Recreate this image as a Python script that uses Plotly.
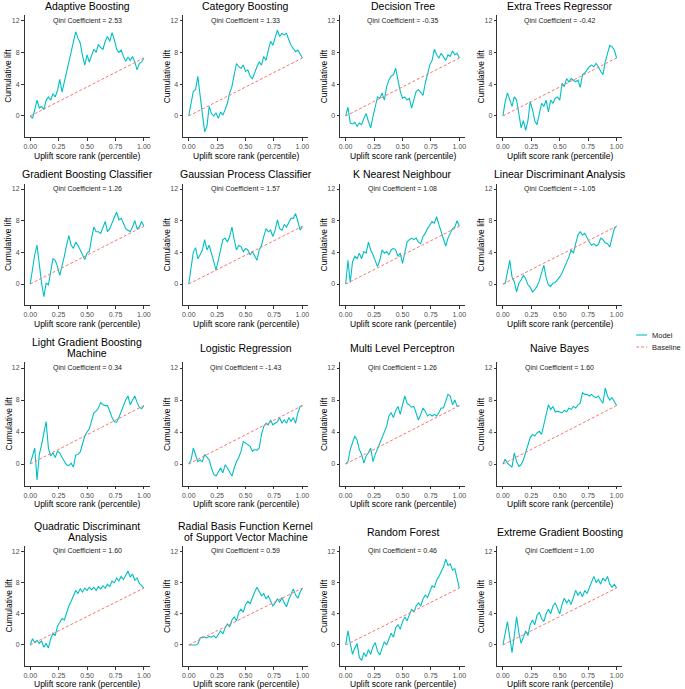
import plotly.graph_objects as go

# ---------------- data ----------------
percentile = [0.00, 0.02, 0.04, 0.06, 0.08, 0.10, 0.12, 0.14, 0.16, 0.18,
              0.20, 0.22, 0.24, 0.26, 0.28, 0.30, 0.32, 0.34, 0.36, 0.38,
              0.40, 0.42, 0.44, 0.46, 0.48, 0.50, 0.52, 0.54, 0.56, 0.58,
              0.60, 0.62, 0.64, 0.66, 0.68, 0.70, 0.72, 0.74, 0.76, 0.78,
              0.80, 0.82, 0.84, 0.86, 0.88, 0.90, 0.92, 0.94, 0.96, 0.98,
              1.00]

models = ["Adaptive Boosting", "Category Boosting", "Decision Tree", "Extra Trees Regressor",
          "Gradient Boosting Classifier", "Gaussian Process Classifier", "K Nearest Neighbour",
          "Linear Discriminant Analysis",
          "Light Gradient Boosting\nMachine", "Logistic Regression", "Multi Level Perceptron",
          "Naive Bayes",
          "Quadratic Discriminant\nAnalysis", "Radial Basis Function Kernel\nof Support Vector Machine",
          "Random Forest", "Extreme Gradient Boosting"]

qini = ["2.53", "1.33", "-0.35", "-0.42", "1.26", "1.57", "1.08", "-1.05",
        "0.34", "-1.43", "1.26", "1.60", "1.60", "0.59", "0.46", "1.00"]

x_ticks = [0, 0.25, 0.5, 0.75, 1]
x_tick_labels = ["0.00", "0.25", "0.50", "0.75", "1.00"]
y_ticks = [0, 4, 8, 12]

lift_adaptive = [0, -0.3, 0.8, 2.0, 1.0, 1.2, 0.8, 2.0, 2.4, 2.0,
                 2.8, 2.4, 3.2, 4.6, 3.0, 4.2, 5.8, 7.0, 8.2, 9.0,
                 10.6, 9.8, 9.2, 7.6, 6.4, 7.7, 6.8, 7.6, 8.4, 8.0,
                 9.0, 8.6, 8.4, 9.4, 10.0, 9.4, 10.5, 9.6, 8.4, 8.0,
                 8.3, 7.5, 6.9, 7.4, 7.0, 7.5, 6.8, 5.8, 6.6, 6.8,
                 7.3]
lift_catboost = [0, 1.6, 3.1, 3.3, 5.0, 2.6, 0.2, -2.0, -1.3, 1.2,
                 0.3, 0.0, 0.4, -0.3, 0.5, 0.1, 0.8, 1.6, 2.9, 3.7,
                 5.2, 6.6, 6.2, 6.0, 6.4, 5.6, 5.8, 5.0, 4.7, 5.6,
                 6.2, 6.8, 6.4, 7.5, 7.0, 8.3, 9.4, 8.9, 9.8, 10.8,
                 10.0, 10.4, 10.2, 10.4, 9.6, 8.9, 8.5, 8.1, 8.3, 7.7,
                 7.3]
lift_tree = [0, 1.1, -0.9, -1.0, -0.8, -1.3, -0.9, -1.1, -0.3, 0.3,
             -0.7, -1.5, -0.1, 1.2, 2.4, 2.2, 2.9, 2.0, 3.7, 4.5,
             5.0, 5.2, 6.0, 4.5, 3.1, 2.2, 2.4, 2.0, 2.2, 1.0,
             2.2, 3.1, 3.3, 2.9, 2.6, 4.1, 5.4, 6.4, 7.0, 8.4,
             7.7, 7.3, 7.9, 7.5, 7.0, 7.7, 7.5, 8.2, 7.7, 7.9,
             7.3]
lift_extra_trees = [0, 1.8, 2.9, 2.0, 1.2, 2.4, 2.0, 0.3, -1.5, -0.6,
                    -1.8, -0.6, 1.8, 0.8, -0.6, -1.1, 0.1, 1.6, 1.2, 2.0,
                    0.5, 2.0, 1.6, 2.2, 2.4, 2.0, 4.1, 3.7, 4.7, 4.3,
                    4.7, 4.5, 4.3, 4.5, 3.6, 5.2, 5.4, 5.8, 6.2, 6.4,
                    6.2, 6.6, 6.2, 5.6, 5.2, 6.8, 7.7, 8.9, 8.7, 8.3,
                    7.3]
lift_gradient = [0, 2.2, 3.7, 4.9, 2.4, 0.1, -1.6, 0.1, -0.1, 1.8,
                 3.2, 3.0, 2.2, 1.1, 2.2, 3.5, 4.9, 6.1, 4.9, 4.5,
                 5.3, 4.9, 4.3, 3.7, 3.1, 3.9, 4.1, 5.8, 7.2, 6.6,
                 6.6, 6.4, 7.2, 7.9, 6.6, 7.0, 7.7, 8.5, 9.1, 8.1,
                 8.3, 7.7, 7.0, 6.8, 6.6, 7.2, 8.0, 7.0, 7.2, 7.9,
                 7.3]
lift_gaussian = [0, 2.2, 4.0, 4.6, 3.2, 3.7, 4.3, 5.6, 4.3, 4.9,
                 3.9, 2.8, 1.8, 3.0, 4.5, 5.6, 5.8, 5.3, 6.0, 7.2,
                 5.6, 4.3, 4.9, 4.7, 4.1, 4.5, 4.3, 3.7, 4.1, 3.5,
                 3.0, 4.3, 4.9, 6.0, 7.0, 6.6, 6.8, 6.0, 6.8, 8.1,
                 7.0, 6.8, 7.5, 7.2, 7.7, 8.3, 8.3, 8.9, 7.9, 6.8,
                 7.3]
lift_knn = [0, 3.0, 0.2, 2.8, 3.5, 3.2, 3.9, 3.2, 4.1, 3.9,
            5.3, 4.3, 3.7, 3.0, 2.2, 3.0, 4.3, 3.9, 4.1, 3.7,
            4.3, 4.5, 4.3, 3.5, 3.9, 2.6, 3.9, 5.3, 5.6, 5.8,
            5.6, 5.8, 5.3, 5.1, 6.0, 6.4, 7.0, 7.5, 7.9, 7.7,
            8.5, 7.5, 6.6, 5.8, 4.8, 5.8, 6.4, 7.0, 7.2, 8.0,
            7.3]
lift_lda = [0, 0.1, 1.5, 3.0, 0.9, 0.3, -1.0, 0.1, 0.5, 1.1,
            0.7, -0.1, -0.4, -1.0, -0.7, -0.3, 0.4, 1.5, 2.4, 0.8,
            -0.1, -0.3, 0.1, 0.2, 0.5, 0.9, 1.4, 2.0, 2.6, 3.4,
            4.3, 3.9, 5.1, 6.2, 6.6, 6.2, 6.4, 5.8, 5.3, 4.9,
            5.1, 4.8, 5.0, 5.8, 5.6, 5.2, 5.1, 4.7, 5.8, 7.0,
            7.3]
lift_lightgbm = [0, 1.0, 2.0, -2.0, 1.2, 2.4, 3.7, 5.3, 2.0, 1.0,
                 1.4, 0.8, 1.6, 1.4, 0.8, 0.3, -0.1, -0.2, 0.1, -0.4,
                 1.1, 1.2, 1.5, 2.5, 3.5, 4.0, 4.4, 5.4, 6.4, 6.6,
                 7.0, 7.7, 7.4, 7.3, 7.3, 6.6, 5.8, 5.3, 5.2, 5.8,
                 6.6, 7.3, 8.0, 8.5, 7.4, 8.0, 8.5, 7.7, 7.1, 6.9,
                 7.3]
lift_logistic = [0, 0.5, 2.0, 1.0, 0.3, 0.5, 0.3, 1.2, 0.8, 0.5,
                 -0.5, -1.3, -1.5, -0.9, -0.5, -1.1, -0.1, -0.5, -1.1, -1.5,
                 -0.5, 0.3, 0.8, 1.6, 2.8, 2.6, 2.4, 2.2, 1.6, 1.8,
                 1.7, 2.0, 3.7, 4.7, 5.1, 4.9, 5.5, 4.9, 5.1, 5.3,
                 5.8, 5.1, 5.5, 5.1, 5.8, 5.3, 5.8, 5.1, 6.4, 7.2,
                 7.3]
lift_mlp = [0, 0.3, 1.8, 2.8, 3.5, 3.0, 1.8, 1.2, 0.1, 1.0,
            1.4, 2.0, 0.3, 1.2, 2.0, 2.6, 3.3, 3.9, 4.7, 6.0,
            6.4, 5.8, 6.7, 7.2, 6.2, 7.4, 8.5, 7.6, 7.4, 7.1,
            7.2, 6.4, 5.5, 6.2, 7.0, 6.6, 6.0, 6.2, 6.0, 6.2,
            6.0, 6.4, 7.0, 7.0, 7.8, 8.7, 8.5, 7.4, 8.0, 7.2,
            7.3]
lift_naive_bayes = [0, 0.6, 0.1, -0.1, -0.4, 1.4, 0.3, -0.3, -0.1, 0.5,
                    1.4, 2.6, 3.3, 3.7, 3.5, 3.9, 4.1, 3.7, 4.9, 6.2,
                    7.4, 6.8, 7.2, 6.5, 6.6, 6.5, 6.4, 6.7, 6.5, 7.0,
                    6.8, 7.2, 7.0, 7.4, 7.6, 8.9, 8.7, 8.7, 8.5, 8.7,
                    8.4, 8.3, 8.5, 8.0, 7.6, 9.5, 8.5, 8.0, 8.3, 7.8,
                    7.3]
lift_qda = [0, 0.8, 0.3, 0.6, 0.2, 0.5, -0.3, 0.2, -0.4, 0.8,
            1.5, 1.2, 2.4, 3.0, 3.4, 3.2, 4.2, 5.0, 5.6, 6.4,
            7.0, 6.6, 7.2, 6.8, 7.3, 7.0, 7.4, 7.1, 7.4, 7.0,
            7.5, 7.2, 7.6, 7.3, 7.8, 7.5, 8.2, 8.0, 8.6, 8.2,
            8.8, 8.4, 9.0, 9.5, 8.7, 9.1, 8.3, 8.6, 7.9, 7.6,
            7.3]
lift_rbf_svm = [0, 0, 0, 0, 0.1, 0.9, 1.0, 1.0, 0.9, 1.1,
                1.0, 1.2, 0.9, 1.3, 1.8, 1.4, 2.2, 2.7, 2.3, 3.2,
                3.6, 3.1, 4.2, 4.6, 4.2, 5.2, 5.6, 5.3, 6.2, 6.8,
                7.4, 6.8, 6.3, 6.6, 5.9, 6.3, 5.6, 5.0, 5.4, 5.9,
                5.5, 6.1, 5.4, 4.9, 5.8, 6.6, 7.2, 6.4, 6.0, 6.8,
                7.3]
lift_random_forest = [0, 1.8, 0.2, -1.2, -0.4, 0.2, -1.6, -2.0, -1.0, -1.5,
                      -0.6, -1.2, -0.2, 0.3, -0.8, -1.3, -0.4, 0.4, 0.0, 0.9,
                      1.5, 1.0, 2.2, 2.6, 2.0, 3.0, 3.6, 3.1, 4.0, 4.6,
                      4.2, 5.0, 5.4, 5.0, 5.9, 6.4, 6.1, 7.0, 7.6, 7.4,
                      8.3, 8.8, 9.4, 10.0, 11.0, 10.2, 10.4, 9.6, 9.8, 8.6,
                      7.3]
lift_xgboost = [0, 1.5, 3.0, 1.0, -1.0, 1.2, 3.6, 1.6, 0.2, 1.0,
                1.8, 1.2, 2.6, 3.2, 2.6, 3.8, 4.2, 3.4, 3.0, 4.0,
                4.6, 4.0, 5.0, 5.4, 4.6, 4.0, 5.2, 6.0, 5.4, 5.8,
                5.2, 6.2, 7.0, 6.4, 6.8, 6.2, 7.0, 6.6, 7.4, 8.2,
                8.8, 8.0, 8.4, 7.8, 8.6, 8.2, 8.8, 7.8, 7.4, 7.8,
                7.3]

lifts = [lift_adaptive, lift_catboost, lift_tree, lift_extra_trees,
         lift_gradient, lift_gaussian, lift_knn, lift_lda,
         lift_lightgbm, lift_logistic, lift_mlp, lift_naive_bayes,
         lift_qda, lift_rbf_svm, lift_random_forest, lift_xgboost]

# ---------------- layout geometry (pixels) ----------------
W, H = 685, 689
col_left = [23.6, 182.6, 340.0, 497.7]
PW = 125.4
row_top = [15.1, 183.5, 362.4, 546.0]
row_bot = [137.4, 305.4, 485.6, 666.0]
title_y_single = [5.5, 173.5, 348.0, 531.5]
title_y_two = [None, None, (342.3, 353.3), (526.0, 537.0)]

FONT = "Liberation Sans, Arial, sans-serif"
MODEL_COLOR = "#00BFC4"
BASE_COLOR = "#F8766D"
AXIS_COLOR = "#333333"
TICK_TEXT = "#4D4D4D"


def px(x):
    return x / W


def py(y):
    return 1 - y / H


fig = go.Figure()
annotations = []
layout_axes = {}

for i, (name, lift) in enumerate(zip(models, lifts)):
    n = i + 1
    r, c = divmod(i, 4)
    xs = "x" if n == 1 else f"x{n}"
    ys = "y" if n == 1 else f"y{n}"
    xk = "xaxis" if n == 1 else f"xaxis{n}"
    yk = "yaxis" if n == 1 else f"yaxis{n}"

    fig.add_trace(go.Scatter(x=percentile[:len(lift)], y=lift, mode="lines",
                             line=dict(color=MODEL_COLOR, width=1.1),
                             name="Model", showlegend=False,
                             xaxis=xs, yaxis=ys, hoverinfo="skip"))
    fig.add_trace(go.Scatter(x=[percentile[0], percentile[len(lift) - 1]], y=[0, lift[-1]],
                             mode="lines",
                             line=dict(color=BASE_COLOR, width=1, dash="3px,2px"),
                             name="Baseline", showlegend=False,
                             xaxis=xs, yaxis=ys, hoverinfo="skip"))

    left = col_left[c]
    right = left + PW
    layout_axes[xk] = dict(
        domain=[px(left), px(right)], anchor=ys, range=[-0.05, 1.05],
        tickvals=x_ticks, ticktext=x_tick_labels,
        showline=True, linecolor=AXIS_COLOR, linewidth=1,
        ticks="outside", ticklen=2.5, tickwidth=1, tickcolor=AXIS_COLOR,
        tickfont=dict(size=7, color=TICK_TEXT, family=FONT),
        showgrid=False, zeroline=False, fixedrange=True)
    layout_axes[yk] = dict(
        domain=[py(row_bot[r]), py(row_top[r])], anchor=xs, range=[-2.7, 12.7],
        tickvals=y_ticks,
        showline=True, linecolor=AXIS_COLOR, linewidth=1,
        ticks="outside", ticklen=2.5, tickwidth=1, tickcolor=AXIS_COLOR,
        tickfont=dict(size=7, color=TICK_TEXT, family=FONT),
        showgrid=False, zeroline=False, fixedrange=True)

    cx = left + PW / 2
    lines = name.split("\n")
    if len(lines) == 1:
        ys_list = [title_y_single[r]]
    else:
        ys_list = list(title_y_two[r])
    for txt, yy in zip(lines, ys_list):
        annotations.append(dict(text=txt, xref="paper", yref="paper", x=px(cx), y=py(yy),
                                xanchor="center", yanchor="middle", showarrow=False,
                                font=dict(size=10.5, color="black", family=FONT)))
    # Qini coefficient
    annotations.append(dict(text=f"Qini Coefficient = {qini[i]}", xref=xs, yref=ys,
                            x=0.5, y=12, xanchor="center", yanchor="middle", showarrow=False,
                            font=dict(size=7, color="#222222", family=FONT)))
    # axis titles
    annotations.append(dict(text="Uplift score rank (percentile)", xref="paper", yref="paper",
                            x=px(cx), y=py(row_bot[r] + 18.3), xanchor="center", yanchor="middle",
                            showarrow=False, font=dict(size=8.5, color="black", family=FONT)))
    annotations.append(dict(text="Cumulative lift", xref="paper", yref="paper",
                            x=px(left - 16), y=py((row_top[r] + row_bot[r]) / 2),
                            xanchor="center", yanchor="middle", textangle=-90,
                            showarrow=False, font=dict(size=8.5, color="black", family=FONT)))

# legend (drawn as guide keys)
legend_items = [("Model", MODEL_COLOR, "solid", 335.0), ("Baseline", BASE_COLOR, "3px,2px", 347.0)]
shapes = []
for label, color, dash, yy in legend_items:
    shapes.append(dict(type="line", xref="paper", yref="paper",
                       x0=px(637), x1=px(648), y0=py(yy), y1=py(yy),
                       line=dict(color=color, width=1.1, dash=dash)))
    annotations.append(dict(text=label, xref="paper", yref="paper", x=px(651), y=py(yy),
                            xanchor="left", yanchor="middle", showarrow=False,
                            font=dict(size=7.5, color="#222222", family=FONT)))

fig.update_layout(
    width=W, height=H, margin=dict(l=0, r=0, t=0, b=0),
    paper_bgcolor="white", plot_bgcolor="white",
    font=dict(family=FONT),
    showlegend=False,
    annotations=annotations, shapes=shapes,
    **layout_axes)

fig.write_html("out.html",
               config={"displayModeBar": False, "staticPlot": True},
               post_script="document.body.style.margin='0px';document.body.style.overflow='hidden';")
